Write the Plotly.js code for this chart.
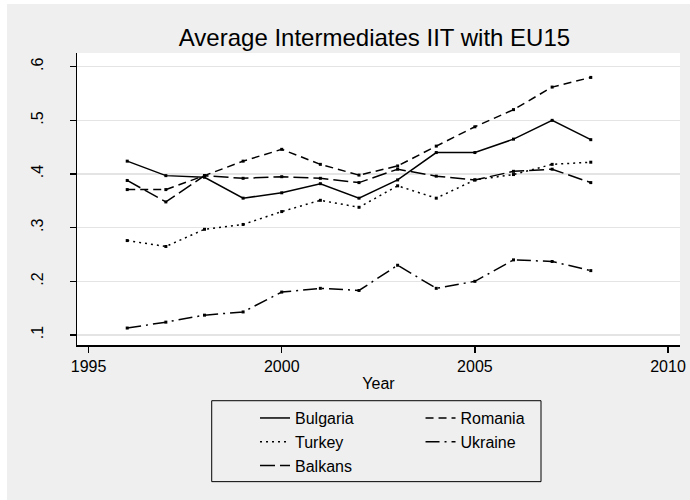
<!DOCTYPE html>
<html>
<head>
<meta charset="utf-8">
<script src="https://cdn.plot.ly/plotly-3.0.1.min.js"></script>
<style>
  html, body { margin: 0; padding: 0; background: #ffffff; }
  #chart { position: absolute; left: 7px; top: 4px; width: 683px; height: 496px; }
</style>
</head>
<body>
<div id="chart"></div>
<script>
// years on the x axis
var years = [1996, 1997, 1998, 1999, 2000, 2001, 2002, 2003, 2004, 2005, 2006, 2007, 2008];

// average intermediates IIT with EU15
var bulgaria = [0.424, 0.397, 0.394, 0.355, 0.365, 0.382, 0.355, 0.389, 0.440, 0.440, 0.465, 0.500, 0.464];
var romania  = [0.371, 0.371, 0.397, 0.424, 0.446, 0.418, 0.398, 0.415, 0.452, 0.488, 0.520, 0.562, 0.580];
var turkey   = [0.276, 0.265, 0.297, 0.306, 0.330, 0.351, 0.338, 0.378, 0.355, 0.389, 0.399, 0.418, 0.422];
var ukraine  = [0.113, 0.124, 0.137, 0.143, 0.180, 0.187, 0.183, 0.230, 0.187, 0.200, 0.240, 0.237, 0.220];
var balkans  = [0.388, 0.348, 0.397, 0.392, 0.395, 0.392, 0.384, 0.409, 0.396, 0.389, 0.405, 0.409, 0.384];

var yTicks = [0.1, 0.2, 0.3, 0.4, 0.5, 0.6];
var yTickText = [".1", ".2", ".3", ".4", ".5", ".6"];
var xTicks = [1995, 2000, 2005, 2010];

// left legend column: Bulgaria, Turkey, Balkans; right column: Romania, Ukraine
var series = [
  {name: "Bulgaria", y: bulgaria, dash: "solid",            legend: "legend"},
  {name: "Romania",  y: romania,  dash: "8px,5px",          legend: "legend2"},
  {name: "Turkey",   y: turkey,   dash: "2px,4px",          legend: "legend"},
  {name: "Ukraine",  y: ukraine,  dash: "14px,5px,2px,5px", legend: "legend2"},
  {name: "Balkans",  y: balkans,  dash: "15px,5px",         legend: "legend"}
];

var data = [];
series.forEach(function(s) {
  data.push({
    x: years, y: s.y, name: s.name, type: "scatter", mode: "lines",
    legend: s.legend,
    line: {color: "#000000", width: 1.5, dash: s.dash}
  });
});
// little square markers on each point, kept out of the legend
series.forEach(function(s) {
  data.push({
    x: years, y: s.y, type: "scatter", mode: "markers", showlegend: false,
    hoverinfo: "skip",
    marker: {symbol: "square", size: 3, color: "#000000"}
  });
});

var fam = "Liberation Sans, Arial, sans-serif";
var legendFont = {family: fam, size: 16, color: "#000000"};

var layout = {
  width: 683, height: 496,
  paper_bgcolor: "#efefef",
  plot_bgcolor: "#ffffff",
  margin: {l: 70, r: 10, t: 49, b: 155},
  font: {family: fam, size: 16, color: "#000000"},
  title: {
    text: "Average Intermediates IIT with EU15",
    font: {family: fam, size: 24, color: "#000000"},
    x: 0.538, xanchor: "center", y: 0.932, yanchor: "middle"
  },
  xaxis: {
    range: [1994.7, 2010.31],
    tickvals: xTicks,
    ticks: "outside", ticklen: 6, tickwidth: 1.5, tickcolor: "#000000",
    showline: true, linecolor: "#000000", linewidth: 1.5,
    showgrid: false, zeroline: false,
    tickfont: {family: fam, size: 16, color: "#000000"},
    title: {text: "Year", standoff: 4, font: {family: fam, size: 16, color: "#000000"}}
  },
  yaxis: {
    range: [0.0814, 0.6255],
    tickvals: yTicks, ticktext: yTickText,
    tickangle: -90,
    ticks: "outside", ticklen: 6, tickwidth: 1.5, tickcolor: "#000000",
    ticklabelstandoff: 20,
    showline: true, linecolor: "#000000", linewidth: 1.5,
    showgrid: true, gridcolor: "#e4e4e4", gridwidth: 1.5,
    zeroline: false,
    tickfont: {family: fam, size: 16, color: "#000000"}
  },
  legend: {
    orientation: "v", x: 0.2952, xanchor: "left", y: -0.192, yanchor: "top",
    bgcolor: "rgba(0,0,0,0)", borderwidth: 0, font: legendFont, traceorder: "normal"
  },
  legend2: {
    orientation: "v", x: 0.5697, xanchor: "left", y: -0.192, yanchor: "top",
    bgcolor: "rgba(0,0,0,0)", borderwidth: 0, font: legendFont, traceorder: "normal"
  },
  // frame round both legend columns
  shapes: [{
    type: "rect", xref: "paper", yref: "paper",
    x0: 0.2234, x1: 0.7695, y0: -0.1908, y1: -0.468,
    line: {color: "#000000", width: 1}, fillcolor: "rgba(0,0,0,0)"
  }],
  showlegend: true
};

Plotly.newPlot("chart", data, layout, {displayModeBar: false, staticPlot: true});
</script>
</body>
</html>
